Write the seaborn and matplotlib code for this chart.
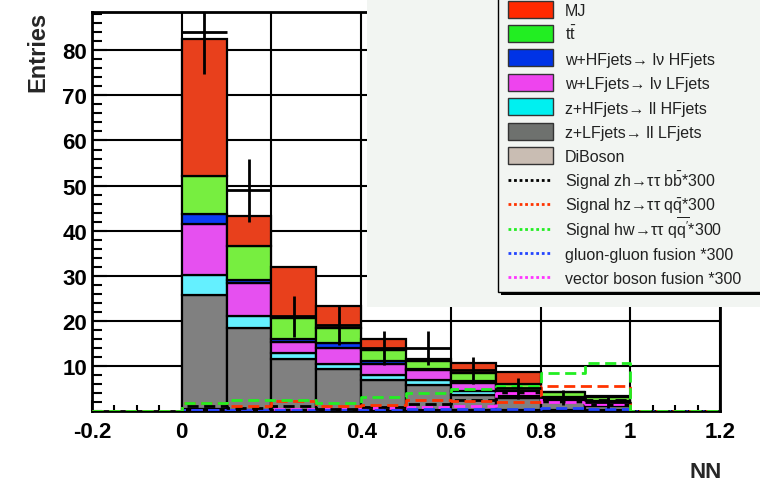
import numpy as np
import pandas as pd
import matplotlib
matplotlib.use("Agg")
import matplotlib.pyplot as plt
from matplotlib.patches import Rectangle
from matplotlib.lines import Line2D
import seaborn as sns

# ---- histogram content (NN output, 0.1 wide bins) ----
bin_edges = [-0.2, -0.1, 0.0, 0.1, 0.2, 0.3, 0.4, 0.5, 0.6, 0.7, 0.8, 0.9, 1.0, 1.1, 1.2]
nn_centers = [0.05, 0.15, 0.25, 0.35, 0.45, 0.55, 0.65, 0.75, 0.85, 0.95]

# background stack (bins 0.0 .. 1.0)
mj      = [30.4, 6.6, 11.3, 4.8, 2.4, 0.3, 2.3, 2.7, 0.0, 0.3]
ttbar   = [8.4, 7.5, 4.7, 3.4, 2.5, 1.8, 1.8, 1.6, 1.2, 0.8]
w_hf    = [2.2, 0.8, 0.8, 1.0, 0.5, 0.4, 0.4, 0.3, 0.2, 0.3]
w_lf    = [11.3, 7.2, 2.4, 3.6, 2.6, 2.2, 1.7, 0.8, 0.5, 0.5]
z_hf    = [4.4, 2.6, 1.2, 1.1, 1.1, 1.0, 0.9, 0.5, 0.3, 0.3]
z_lf    = [25.3, 18.2, 11.3, 9.0, 6.5, 5.5, 3.4, 2.6, 1.8, 0.8]
diboson = [0.5, 0.3, 0.3, 0.3, 0.3, 0.3, 0.2, 0.2, 0.3, 0.3]

# observed events
data = [84, 49, 21, 19, 14, 14, 9, 5, 3, 2]

# signal templates scaled by 300
sig_zh  = [1.0, 0.6, 1.2, 0.5, 0.8, 1.5, 2.5, 3.0, 3.0, 2.5]
sig_hz  = [1.8, 1.1, 2.2, 1.0, 1.4, 2.5, 2.2, 2.0, 5.5, 5.5]
sig_hw  = [1.8, 2.4, 2.4, 1.8, 3.0, 4.1, 4.8, 5.5, 8.4, 10.6]
sig_ggf = [0.2, 0.2, 0.3, 0.3, 0.3, 0.4, 0.5, 0.5, 0.6, 0.5]
sig_vbf = [0.3, 0.3, 0.4, 0.5, 0.6, 0.8, 1.2, 3.9, 2.0, 1.5]

x_ticks = [-0.2, 0.0, 0.2, 0.4, 0.6, 0.8, 1.0, 1.2]
x_tick_labels = ["-0.2", "0", "0.2", "0.4", "0.6", "0.8", "1", "1.2"]
y_ticks = [10, 20, 30, 40, 50, 60, 70, 80]

bkg_labels = ["MJ",
              "t$\\bar{\\mathrm{t}}$",
              "w+HFjets\u2192 l\u03bd HFjets",
              "w+LFjets\u2192 l\u03bd LFjets",
              "z+HFjets\u2192 ll HFjets",
              "z+LFjets\u2192 ll LFjets",
              "DiBoson"]
sig_labels = ["Signal zh\u2192\u03c4\u03c4 b$\\bar{\\mathrm{b}}$*300",
              "Signal hz\u2192\u03c4\u03c4 q$\\bar{\\mathrm{q}}$*300",
              "Signal hw\u2192\u03c4\u03c4 q$\\overline{\\mathrm{q'}}$*300",
              "gluon-gluon fusion *300",
              "vector boson fusion *300"]

# ---- styling ----
bkg_fill = ["#e8401c", "#77ee40", "#0a3cf5", "#e650f0", "#64f0ff", "#808080", "#c8bfb4"]
bkg_key = ["#ff2a00", "#22ee22", "#0033e6", "#ee44ee", "#00f0f0", "#6e716e", "#c9bdb3"]
sig_colors = ["#000000", "#ff3300", "#22ee22", "#2244ff", "#ff33ff"]

sns.set_theme(style="white")
plt.rcParams["font.family"] = ["Liberation Sans", "DejaVu Sans"]
plt.rcParams["mathtext.fontset"] = "custom"
plt.rcParams["mathtext.rm"] = "Liberation Sans"
plt.rcParams["mathtext.it"] = "Liberation Sans:italic"
plt.rcParams["mathtext.bf"] = "Liberation Sans:bold"

W, H = 760, 485
fig = plt.figure(figsize=(W / 100, H / 100), dpi=100)
ax = fig.add_axes([92 / W, 1 - 412 / H, (720 - 92) / W, (412 - 13) / H])
ax.set_facecolor("white")

# stacked backgrounds
series = [mj, ttbar, w_hf, w_lf, z_hf, z_lf, diboson]
rows = []
for name, vals in zip(bkg_labels, series):
    for c, v in zip(nn_centers, vals):
        rows.append({"nn": c, "entries": v, "process": name})
bkg = pd.DataFrame(rows)
sns.histplot(data=bkg, x="nn", weights="entries", hue="process",
             hue_order=bkg_labels, palette=bkg_fill, multiple="stack",
             bins=bin_edges[2:13], edgecolor="black", linewidth=1.6,
             alpha=1, legend=False, ax=ax, zorder=2)

# signal overlays, drawn over the full axis range
full_centers = [round(e + 0.05, 2) for e in bin_edges[:-1]]
pad = [0.0, 0.0]
sig_series = [sig_vbf, sig_ggf, sig_zh, sig_hz, sig_hw]
sig_cols = [sig_colors[4], sig_colors[3], sig_colors[0], sig_colors[1], sig_colors[2]]
for vals, col in zip(sig_series, sig_cols):
    sdf = pd.DataFrame({"nn": full_centers, "entries": pad + vals + pad})
    sns.histplot(data=sdf, x="nn", weights="entries", bins=bin_edges,
                 element="step", fill=False, color=col, linewidth=2,
                 linestyle=(0, (4, 2)), ax=ax, zorder=3)

# data points with Poisson errors
ax.errorbar(nn_centers, data, xerr=0.05, yerr=np.sqrt(data), fmt="none",
            ecolor="black", elinewidth=2, capsize=0, zorder=5)

ax.set_xlim(-0.2, 1.2)
ax.set_ylim(0, 88.5)
ax.set_xticks(x_ticks)
ax.set_xticklabels(x_tick_labels)
ax.set_yticks(y_ticks)
ax.set_xticks(np.arange(-0.2, 1.2001, 0.05), minor=True)
ax.set_yticks(np.arange(0, 88.5, 2), minor=True)
ax.set_xlabel("")
ax.set_ylabel("")
ax.set_axisbelow(True)
ax.grid(True, which="major", color="black", linewidth=1.5)
ax.tick_params(axis="both", which="both", direction="in", colors="black",
               labelsize=16, width=1.5)
ax.tick_params(axis="y", which="major", length=11, pad=3.5, left=True)
ax.tick_params(axis="y", which="minor", length=7, left=True)
ax.tick_params(axis="x", which="major", length=8, pad=7, bottom=True)
ax.tick_params(axis="x", which="minor", length=4, bottom=True)
for lab in ax.get_xticklabels() + ax.get_yticklabels():
    lab.set_fontweight("bold")
for sp in ax.spines.values():
    sp.set_color("black")
    sp.set_linewidth(2)
    sp.set_visible(True)

fig.text(38 / W, 1 - 12 / H, "Entries", rotation=90, ha="center", va="top",
         fontsize=17, fontweight="bold")
fig.text(722 / W, 1 - 473 / H, "NN", ha="right", va="center",
         fontsize=16, fontweight="bold")


# ---- legend panel (pixel coordinates, origin at top-left) ----
def fx(px):
    return px / W


def fy(py):
    return 1 - py / H


panel_bg = "#f2f5f2"
fig.add_artist(Rectangle((fx(367), fy(308)), fx(W - 367 + 5), 308 / H + 0.02,
                         transform=fig.transFigure, facecolor=panel_bg,
                         edgecolor="none", zorder=10))
fig.add_artist(Rectangle((fx(501), fy(296)), fx(300), 300 / H,
                         transform=fig.transFigure, facecolor="black",
                         edgecolor="none", zorder=11))
fig.add_artist(Rectangle((fx(498), fy(293)), fx(300), 300 / H,
                         transform=fig.transFigure, facecolor=panel_bg,
                         edgecolor="black", linewidth=1, zorder=12))

row_y = [10 + 24.4 * i for i in range(12)]
for i, (lab, col) in enumerate(zip(bkg_labels, bkg_key)):
    yc = row_y[i]
    fig.add_artist(Rectangle((fx(508), fy(yc + 8.5)), fx(45), 17 / H,
                             transform=fig.transFigure, facecolor=col,
                             edgecolor="#333333", linewidth=1, zorder=13))
    fig.text(fx(565), fy(yc + 6), lab, ha="left", va="baseline",
             fontsize=11.5, color="#222222", zorder=13)
for j, (lab, col) in enumerate(zip(sig_labels, sig_colors)):
    yc = row_y[7 + j]
    fig.add_artist(Line2D([fx(508), fx(550)], [fy(yc), fy(yc)],
                          transform=fig.transFigure, color=col, linewidth=2,
                          linestyle=(0, (1, 1)), zorder=13))
    fig.text(fx(565), fy(yc + 6), lab, ha="left", va="baseline",
             fontsize=11.5, color="#222222", zorder=13)

fig.savefig("out.png", dpi=100)
